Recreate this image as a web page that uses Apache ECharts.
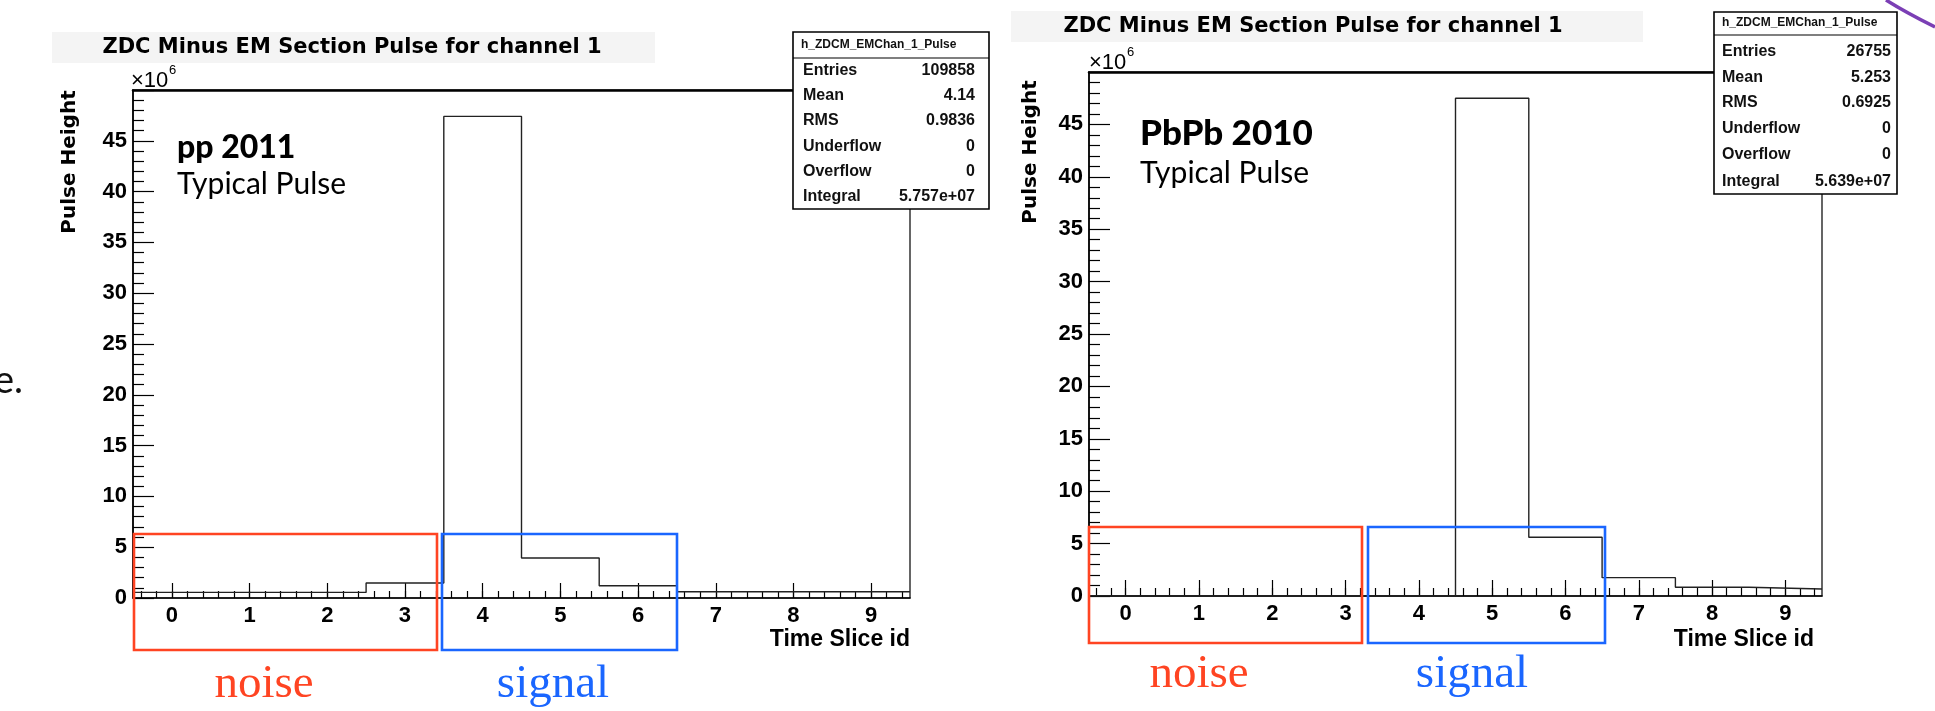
<!DOCTYPE html>
<html>
<head>
<meta charset="utf-8">
<script src="https://cdn.jsdelivr.net/npm/echarts@6/dist/echarts.min.js"></script>
<style>
  html, body { margin: 0; padding: 0; background: #fff; }
  #chart { width: 1935px; height: 711px; }
</style>
</head>
<body>
<div id="chart"></div>
<script>
// ---------------- data ----------------
const timeSlices = ['0', '1', '2', '3', '4', '5', '6', '7', '8', '9'];
const ppPulse   = [0.55, 0.55, 0.55, 1.47, 47.4, 3.93, 1.21, 0.62, 0.62, 0.62];   // x10^6
const pbpbPulse = [0, 0, 0, 0, 0, 47.5, 5.6, 1.75, 0.83, 0.67];                  // x10^6
const yTickLabels = ['0', '5', '10', '15', '20', '25', '30', '35', '40', '45'];
const histTitle = 'ZDC Minus EM Section Pulse for channel 1';
const statsName = 'h_ZDCM_EMChan_1_Pulse';
const statLabels = ['Entries', 'Mean', 'RMS', 'Underflow', 'Overflow', 'Integral'];
const ppStats   = ['109858', '4.14', '0.9836', '0', '0', '5.757e+07'];
const pbpbStats = ['26755', '5.253', '0.6925', '0', '0', '5.639e+07'];
const ppLabel = ['pp 2011', 'Typical Pulse'];
const pbpbLabel = ['PbPb 2010', 'Typical Pulse'];
const regionLabels = ['noise', 'signal'];

// minor tick slots: 5 per bin (centres at -0.4, -0.2, 0, 0.2, 0.4 ...)
const minorSlots = timeSlices.flatMap(t => [0, 1, 2, 3, 4].map(k => t + '_' + k));

function stepPoints(vals) {
  return vals.flatMap((v, i) => [[i - 0.5, v], [i + 0.5, v]]);
}

const AX_FONT = 'Liberation Sans';
const RED = '#ff4422';
const BLUE = '#1a66ff';

function axesFor(g, majLen, minLen) {
  return [
    { // hidden value axis carrying the histogram; drawn at top as the thick frame line
      type: 'value', gridIndex: g, min: -0.5, max: 9.5, position: 'top',
      axisLine: { show: true, onZero: false, lineStyle: { color: '#000', width: 2.5 } },
      axisTick: { show: false }, axisLabel: { show: false }, splitLine: { show: false }
    },
    { // major ticks + labels
      type: 'category', gridIndex: g, data: timeSlices, position: 'bottom', boundaryGap: true,
      axisLine: { show: true, onZero: false, lineStyle: { color: '#000', width: 1.6 } },
      axisTick: { show: true, inside: true, alignWithLabel: true, interval: 0, length: majLen,
                  lineStyle: { color: '#000', width: 1.2 } },
      axisLabel: { show: true, interval: 0, margin: 7, color: '#000',
                   fontFamily: AX_FONT, fontWeight: 'bold', fontSize: 22 },
      splitLine: { show: false }
    },
    { // minor ticks
      type: 'category', gridIndex: g, data: minorSlots, position: 'bottom', boundaryGap: true,
      axisLine: { show: false, onZero: false },
      axisTick: { show: true, inside: true, alignWithLabel: true, interval: 0, length: minLen,
                  lineStyle: { color: '#000', width: 1.2 } },
      axisLabel: { show: false }, splitLine: { show: false }
    }
  ];
}

function yAxisFor(g) {
  return {
    type: 'value', gridIndex: g, min: 0, max: 50, interval: 5,
    axisLine: { show: true, onZero: false, lineStyle: { color: '#000', width: 1.6 } },
    axisTick: { show: true, inside: true, length: 21, lineStyle: { color: '#000', width: 1.2 } },
    minorTick: { show: true, splitNumber: 5, length: 11, lineStyle: { color: '#000', width: 1.2 } },
    axisLabel: { show: true, margin: 6, color: '#000', fontFamily: AX_FONT, fontWeight: 'bold', fontSize: 22,
                 formatter: v => (yTickLabels.indexOf(String(v)) >= 0 ? String(v) : '') },
    splitLine: { show: false }, minorSplitLine: { show: false }
  };
}

function txt(x, y, text, font, fill, align, extra) {
  return Object.assign({
    type: 'text', x: x, y: y, z: 100, rotation: 0,
    style: { text: text, font: font, fill: fill || '#000', textAlign: align || 'left', textVerticalAlign: 'middle' }
  }, extra || {});
}

function statBox(x, y, w, h, headerY, sepY, rowYs, labelX, valueX, values) {
  const els = [
    { type: 'rect', z: 100, shape: { x: x, y: y, width: w, height: h },
      style: { fill: '#fff', stroke: '#000', lineWidth: 1.6 } },
    { type: 'line', z: 101, shape: { x1: x, y1: sepY, x2: x + w, y2: sepY },
      style: { stroke: '#000', lineWidth: 1.2 } },
    txt(x + 8, headerY, statsName, 'bold 12px "Liberation Sans"', '#111', 'left', { z: 101 })
  ];
  statLabels.forEach((lab, i) => {
    els.push(txt(labelX, rowYs[i], lab, 'bold 16px "Liberation Sans"', '#111', 'left', { z: 101 }));
    els.push(txt(valueX, rowYs[i], values[i], 'bold 16px "Liberation Sans"', '#111', 'right', { z: 101 }));
  });
  return els;
}

function regionBox(x1, x2, y1, y2, color) {
  return { type: 'rect', z: 110, shape: { x: x1, y: y1, width: x2 - x1, height: y2 - y1 },
           style: { fill: 'none', stroke: color, lineWidth: 2.6 } };
}

const graphics = [
  // ---- left panel ----
  { type: 'rect', z: 1, shape: { x: 52, y: 32, width: 603, height: 31 }, style: { fill: '#f4f4f4' } },
  txt(352, 48, histTitle, 'bold 21px "DejaVu Sans"', '#000', 'center'),
  txt(131, 81, '×10', '22px "Liberation Sans"', '#000', 'left'),
  txt(169, 70, '6', '13px "Liberation Sans"', '#000', 'left'),
  txt(70, 162, 'Pulse Height', 'bold 20px "DejaVu Sans"', '#000', 'center', { rotation: Math.PI / 2 }),
  txt(177, 148, ppLabel[0], '900 32px Lato', '#000', 'left'),
  txt(177, 184, ppLabel[1], '30px Lato', '#000', 'left'),
  txt(910, 640, 'Time Slice id', 'bold 23px "Liberation Sans"', '#000', 'right'),
  ...statBox(793, 32, 196, 177, 45, 58, [71, 96, 121, 147, 172, 197], 803, 975, ppStats),
  regionBox(134, 437, 534, 650, RED),
  regionBox(442, 677, 534, 650, BLUE),
  txt(264, 685, regionLabels[0], '47px "Liberation Serif"', RED, 'center'),
  txt(553, 685, regionLabels[1], '47px "Liberation Serif"', BLUE, 'center'),
  txt(23, 381, 'e.', '38px Lato', '#111', 'right'),
  // ---- right panel ----
  { type: 'rect', z: 1, shape: { x: 1011, y: 11, width: 632, height: 31 }, style: { fill: '#f4f4f4' } },
  txt(1313, 27, histTitle, 'bold 21px "DejaVu Sans"', '#000', 'center'),
  txt(1089, 63, '×10', '22px "Liberation Sans"', '#000', 'left'),
  txt(1127, 52, '6', '13px "Liberation Sans"', '#000', 'left'),
  txt(1031, 152, 'Pulse Height', 'bold 20px "DejaVu Sans"', '#000', 'center', { rotation: Math.PI / 2 }),
  txt(1140, 134, pbpbLabel[0], '900 35px Lato', '#000', 'left'),
  txt(1140, 173, pbpbLabel[1], '30px Lato', '#000', 'left'),
  txt(1814, 640, 'Time Slice id', 'bold 23px "Liberation Sans"', '#000', 'right'),
  ...statBox(1714, 12, 183, 182, 23, 35, [52, 78, 103, 129, 155, 182], 1722, 1891, pbpbStats),
  regionBox(1089, 1362, 527, 643, RED),
  regionBox(1368, 1605, 527, 643, BLUE),
  txt(1199, 675, regionLabels[0], '47px "Liberation Serif"', RED, 'center'),
  txt(1472, 675, regionLabels[1], '47px "Liberation Serif"', BLUE, 'center'),
  // decorative slide arc (top-right corner)
  { type: 'bezierCurve', z: 120, shape: { x1: 1886, y1: 0, x2: 1935, y2: 27, cpx1: 1905, cpy1: 12 },
    style: { stroke: '#7b3fb5', lineWidth: 3.5, fill: 'none' } }
];

const option = {
  animation: false,
  backgroundColor: '#fff',
  grid: [
    { left: 133, top: 90, width: 777, height: 508, show: true, borderColor: '#000', borderWidth: 1.2, containLabel: false },
    { left: 1089, top: 72, width: 733, height: 524, show: true, borderColor: '#000', borderWidth: 1.2, containLabel: false }
  ],
  xAxis: [...axesFor(0, 15, 7), ...axesFor(1, 16, 8)],
  yAxis: [yAxisFor(0), yAxisFor(1)],
  series: [
    { type: 'line', name: 'pp 2011', xAxisIndex: 0, yAxisIndex: 0, data: stepPoints(ppPulse),
      showSymbol: false, symbol: 'none', lineStyle: { color: '#222', width: 1.4 }, z: 5 },
    { type: 'line', name: 'PbPb 2010', xAxisIndex: 3, yAxisIndex: 1, data: stepPoints(pbpbPulse),
      showSymbol: false, symbol: 'none', lineStyle: { color: '#222', width: 1.4 }, z: 5 }
  ],
  graphic: { elements: graphics }
};

const chart = echarts.init(document.getElementById('chart'), null, { renderer: 'canvas' });
chart.setOption(option);
</script>
</body>
</html>
